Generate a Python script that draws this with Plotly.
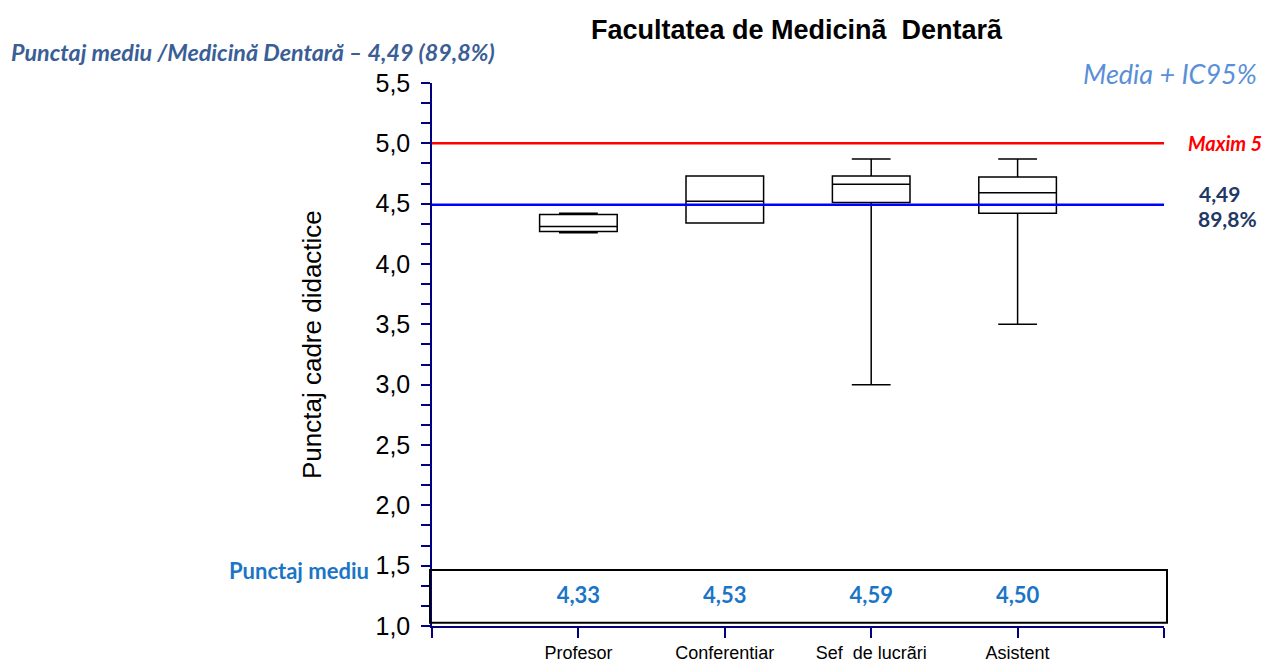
import plotly.graph_objects as go

# ---------------- data ----------------
categories = ["Profesor", "Conferentiar", "Sef  de lucrãri", "Asistent"]
cat_pos = [1, 2, 3, 4]
q1 = [4.27, 4.34, 4.51, 4.42]
median = [4.31, 4.52, 4.66, 4.59]
q3 = [4.41, 4.73, 4.73, 4.72]
lower = [4.26, 4.34, 3.00, 3.50]
upper = [4.42, 4.73, 4.87, 4.87]
means = [4.33, 4.53, 4.59, 4.50]
overall_mean = 4.49
overall_pct = 89.8
maximum = 5.0
axis_ticks = [0, 1, 2, 3, 4, 5]
tick_text = [""] + categories + [""]

W, H = 1272, 663
L, R, T, B = 432, 108, 83, 37
pw, ph = W - L - R, H - T - B


def px(xp):
    return (xp - L) / pw


def py(yp):
    return (H - B - yp) / ph


def fmt(v, d=2):
    return f"{v:.{d}f}".replace(".", ",")


NAVY = "#000080"
fig = go.Figure()

fig.add_trace(go.Box(
    x=cat_pos, q1=q1, median=median, q3=q3,
    lowerfence=lower, upperfence=upper,
    width=0.53, whiskerwidth=0.5,
    line=dict(color="black", width=1.5), fillcolor="white",
    boxpoints=False, showlegend=False, hoverinfo="skip",
))

# horizontal reference lines (drawn above the boxes)
fig.add_trace(go.Scatter(x=[axis_ticks[0], axis_ticks[-1]], y=[maximum, maximum],
                         mode="lines", line=dict(color="#FF0000", width=2.5),
                         showlegend=False, hoverinfo="skip", cliponaxis=False))
fig.add_trace(go.Scatter(x=[axis_ticks[0], axis_ticks[-1]], y=[overall_mean, overall_mean],
                         mode="lines", line=dict(color="#0000FF", width=2.5),
                         showlegend=False, hoverinfo="skip", cliponaxis=False))

# mean values row
fig.add_trace(go.Scatter(
    x=cat_pos, y=[1.24] * len(cat_pos), mode="text",
    text=[fmt(m) for m in means],
    textfont=dict(family="Lato", size=22, color="#1B75C6", weight="bold"),
    showlegend=False, hoverinfo="skip", cliponaxis=False,
))

fig.add_shape(type="rect", xref="paper", yref="paper",
              x0=px(430), x1=px(1167), y0=py(622.7), y1=py(570),
              line=dict(color="black", width=2), fillcolor="rgba(0,0,0,0)", layer="above")

annotations = [
    dict(text="<b>Facultatea de Medicinã \u00a0Dentarã</b>", x=px(797), y=py(30),
         xanchor="center", yanchor="middle",
         font=dict(family="Liberation Sans", size=27, color="black")),
    dict(text="<b><i>Punctaj mediu /Medicină Dentară – " + fmt(overall_mean) + " (" + fmt(overall_pct, 1) + "%)</i></b>",
         x=px(9), y=py(52), xanchor="left", yanchor="middle",
         font=dict(family="Lato", size=23.3, color="#3A5E96")),
    dict(text="<i>Media + IC95%</i>", x=px(1259), y=py(73), xanchor="right", yanchor="middle",
         font=dict(family="Lato", size=27, color="#5A8FD8")),
    dict(text="<b><i>Maxim " + f"{maximum:g}" + "</i></b>", x=px(1186), y=py(143),
         xanchor="left", yanchor="middle",
         font=dict(family="Lato", size=20, color="#FF0000")),
    dict(text="<b>" + fmt(overall_mean) + "</b>", x=px(1197), y=py(193),
         xanchor="left", yanchor="middle",
         font=dict(family="Lato", size=21, color="#1F3864")),
    dict(text="<b>" + fmt(overall_pct, 1) + "%</b>", x=px(1196), y=py(218),
         xanchor="left", yanchor="middle",
         font=dict(family="Lato", size=21, color="#1F3864")),
    dict(text="<b>Punctaj mediu</b>", x=px(371), y=py(570), xanchor="right", yanchor="middle",
         font=dict(family="Lato", size=22, color="#1B75C6")),
    dict(text="Punctaj cadre didactice", x=px(312), y=py(345), textangle=-90,
         xanchor="center", yanchor="middle",
         font=dict(family="Liberation Sans", size=26, color="black")),
]
for a in annotations:
    a.update(xref="paper", yref="paper", showarrow=False)

fig.update_layout(
    width=W, height=H, autosize=False,
    margin=dict(l=L, r=R, t=T, b=B, pad=0, autoexpand=False),
    paper_bgcolor="white", plot_bgcolor="white",
    separators=", ",
    annotations=annotations,
    showlegend=False,
    xaxis=dict(
        range=[axis_ticks[0], axis_ticks[-1]], tickmode="array",
        tickvals=axis_ticks, ticktext=tick_text, automargin=False,
        showgrid=False, zeroline=False,
        showline=True, linecolor=NAVY, linewidth=1.5,
        ticks="outside", ticklen=10, tickcolor=NAVY, tickwidth=1.5,
        tickfont=dict(family="Liberation Sans", size=18, color="black"),
        ticklabelstandoff=0,
    ),
    yaxis=dict(
        range=[1.0, 5.5], tick0=1.0, dtick=0.5, tickformat=".1f", automargin=False,
        showgrid=False, zeroline=False,
        showline=True, linecolor=NAVY, linewidth=1.5,
        ticks="outside", ticklen=9, tickcolor=NAVY, tickwidth=1.5,
        minor=dict(dtick=0.5 / 3, tick0=1.0, ticks="outside", ticklen=9,
                   tickcolor=NAVY, tickwidth=1.5, showgrid=False),
        tickfont=dict(family="Liberation Sans", size=25, color="black"),
        ticklabelstandoff=6,
    ),
)

fig.write_html("out.html",
               config={"displayModeBar": False, "responsive": False},
               post_script="document.body.style.margin='0';document.body.style.overflow='hidden';")
